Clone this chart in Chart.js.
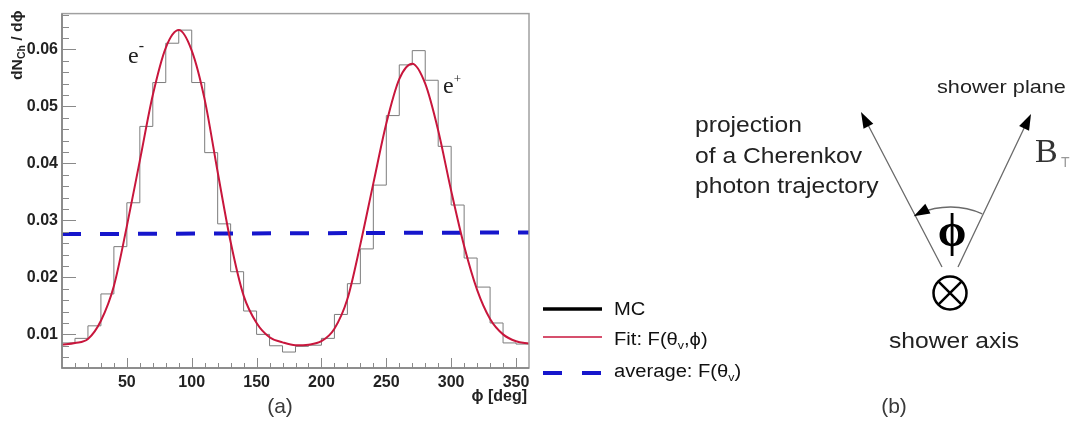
<!DOCTYPE html>
<html>
<head>
<meta charset="utf-8">
<script src="https://cdn.jsdelivr.net/npm/chart.js@4"></script>
<style>
  body { margin: 0; background: #fff; }
</style>
</head>
<body>
<canvas id="phi-chart" width="1082" height="423"></canvas>
<script>
// MC histogram: 10 degree bins, left edges + closing edge at 360
const binEdges = [0, 10, 20, 30, 40, 50, 60, 70, 80, 90, 100, 110, 120, 130, 140, 150, 160, 170,
    180, 190, 200, 210, 220, 230, 240, 250, 260, 270, 280, 290, 300, 310, 320, 330, 340, 350, 360];
const mcValues = [
    0.0085, 0.0093, 0.0115, 0.0171, 0.0254, 0.0331, 0.0465, 0.0542, 0.0611, 0.0634, 0.0542, 0.0419,
    0.0294, 0.0210, 0.0141, 0.0100, 0.0080, 0.0069, 0.0079, 0.0081, 0.0093, 0.0135, 0.0189, 0.0250,
    0.0362, 0.0484, 0.0573, 0.0598, 0.0546, 0.0430, 0.0327, 0.0234, 0.0183, 0.0120, 0.0085, 0.0083
];

// fit F(theta_v, phi), read every 10 deg
const fitPhi = binEdges;
const fitValues = [
    0.0082, 0.0085, 0.0092, 0.0124, 0.0185, 0.0290, 0.0405, 0.0520, 0.0603, 0.0634, 0.0598, 0.0512,
    0.0385, 0.0262, 0.0168, 0.0120, 0.0095, 0.0086, 0.0081, 0.0082, 0.0088, 0.0110, 0.0162, 0.0258,
    0.0365, 0.0470, 0.0548, 0.0575, 0.0540, 0.0458, 0.0352, 0.0255, 0.0178, 0.0127, 0.0100, 0.0088, 0.0084
];

// average F(theta_v)
const avgPhi = [0, 360];
const avgValues = [0.0276, 0.0279];

const xTickValues = [50, 100, 150, 200, 250, 300, 350];
const yTickValues = [0.01, 0.02, 0.03, 0.04, 0.05, 0.06];

const SANS = '"Liberation Sans", Arial, sans-serif';
const SERIF = '"Liberation Serif", "Times New Roman", serif';
const RED = '#c8163c';
const BLUE = '#1616cc';

// draws a row of text pieces (for sub/superscripts), sx = horizontal stretch
function textRun(ctx, x, y, parts, sx) {
    ctx.save();
    ctx.translate(x, y);
    ctx.scale(sx || 1, 1);
    ctx.textAlign = 'left';
    ctx.textBaseline = 'alphabetic';
    let cx = 0;
    parts.forEach(p => {
        ctx.font = p[1];
        ctx.fillStyle = p[3] || '#111';
        ctx.fillText(p[0], cx, p[2] || 0);
        cx += ctx.measureText(p[0]).width;
    });
    ctx.restore();
}

function arrowHead(ctx, tx, ty, angle, len, half) {
    ctx.save();
    ctx.translate(tx, ty);
    ctx.rotate(angle);
    ctx.beginPath();
    ctx.moveTo(0, 0);
    ctx.lineTo(-len, -half);
    ctx.lineTo(-len, half);
    ctx.closePath();
    ctx.fillStyle = '#000';
    ctx.fill();
    ctx.restore();
}

const decor = {
    id: 'decor',
    afterDraw(chart) {
        const ctx = chart.ctx;
        const area = chart.chartArea;
        const xs = chart.scales.x;
        const ys = chart.scales.y;

        ctx.save();
        // frame
        ctx.strokeStyle = '#a0a0a0';
        ctx.lineWidth = 1.5;
        ctx.strokeRect(area.left, area.top, area.right - area.left, area.bottom - area.top);
        ctx.strokeStyle = '#808080';
        ctx.beginPath();
        ctx.moveTo(area.left, area.top);
        ctx.lineTo(area.left, area.bottom);
        ctx.lineTo(area.right, area.bottom);
        ctx.stroke();

        // inside ticks
        ctx.lineWidth = 1;
        ctx.strokeStyle = '#8a8a8a';
        ctx.beginPath();
        for (let i = 3; i <= 33; i++) {
            const py = Math.round(ys.getPixelForValue(i * 0.002)) + 0.5;
            if (py < area.top || py > area.bottom) continue;
            const len = i % 5 === 0 ? 14 : 7;
            ctx.moveTo(area.left, py);
            ctx.lineTo(area.left + len, py);
        }
        for (let d = 10; d < 360; d += 10) {
            const px = Math.round(xs.getPixelForValue(d)) + 0.5;
            const len = d % 50 === 0 ? 10 : 5;
            ctx.moveTo(px, area.bottom);
            ctx.lineTo(px, area.bottom - len);
        }
        ctx.stroke();

        // axis titles
        ctx.save();
        ctx.translate(22, 80);
        ctx.rotate(-Math.PI / 2);
        textRun(ctx, 0, 0, [
            ['dN', 'bold 15px ' + SANS, 0, '#222'],
            ['Ch', 'bold 10px ' + SANS, 3, '#222'],
            [' / d\u03D5', 'bold 15px ' + SANS, 0, '#222']
        ], 1.05);
        ctx.restore();
        ctx.font = 'bold 16px ' + SANS;
        ctx.fillStyle = '#222';
        ctx.textAlign = 'right';
        ctx.textBaseline = 'alphabetic';
        ctx.fillText('\u03D5 [deg]', 527, 401);

        // peak labels
        textRun(ctx, 128, 63, [['e', '24px ' + SERIF, 0, '#222'], ['-', '16px ' + SERIF, -12, '#222']]);
        textRun(ctx, 443, 93, [['e', '24px ' + SERIF, 0, '#222'], ['+', '13px ' + SERIF, -10, '#222']]);

        // panel labels
        ctx.font = '21px ' + SANS;
        ctx.fillStyle = '#3a3a3a';
        ctx.textAlign = 'center';
        ctx.fillText('(a)', 280, 413);
        ctx.fillText('(b)', 894, 413);

        // legend
        ctx.lineCap = 'butt';
        ctx.strokeStyle = '#000';
        ctx.lineWidth = 3.5;
        ctx.beginPath(); ctx.moveTo(543, 309); ctx.lineTo(602, 309); ctx.stroke();
        ctx.strokeStyle = RED;
        ctx.lineWidth = 1.5;
        ctx.beginPath(); ctx.moveTo(543, 337); ctx.lineTo(602, 337); ctx.stroke();
        ctx.strokeStyle = BLUE;
        ctx.lineWidth = 4;
        ctx.beginPath();
        ctx.moveTo(543, 373); ctx.lineTo(562, 373);
        ctx.moveTo(582, 373); ctx.lineTo(601, 373);
        ctx.stroke();
        const lf = '18px ' + SANS, ls = '11px ' + SANS;
        textRun(ctx, 614, 315, [['MC', lf]], 1.12);
        textRun(ctx, 614, 345, [['Fit: F(\u03B8', lf], ['v', ls, 4], [',\u03D5)', lf]], 1.12);
        textRun(ctx, 614, 376.5, [['average: F(\u03B8', lf], ['v', ls, 4], [')', lf]], 1.12);

        // diagram (b)
        ctx.strokeStyle = '#6a6a6a';
        ctx.lineWidth = 1.3;
        ctx.beginPath();
        ctx.moveTo(942, 267); ctx.lineTo(866, 121);
        ctx.moveTo(958, 267); ctx.lineTo(1027, 122);
        ctx.stroke();
        arrowHead(ctx, 861, 112, Math.atan2(112 - 267, 861 - 942), 16, 5.5);
        arrowHead(ctx, 1031, 114, Math.atan2(114 - 267, 1031 - 958), 16, 5.5);

        const cx = 950.4, cy = 285, r = 78;
        ctx.beginPath();
        ctx.arc(cx, cy, r, -1.15, -1.98, true);
        ctx.stroke();
        const a = -2.06;
        arrowHead(ctx, cx + r * Math.cos(a), cy + r * Math.sin(a), a - Math.PI / 2, 16, 5.5);

        // shower axis symbol
        ctx.strokeStyle = '#000';
        ctx.lineWidth = 2.5;
        ctx.beginPath();
        ctx.arc(950, 293, 16.5, 0, Math.PI * 2);
        ctx.stroke();
        const k = 16.5 * Math.SQRT1_2;
        ctx.beginPath();
        ctx.moveTo(950 - k, 293 - k); ctx.lineTo(950 + k, 293 + k);
        ctx.moveTo(950 + k, 293 - k); ctx.lineTo(950 - k, 293 + k);
        ctx.stroke();

        ctx.font = 'bold 46px ' + SERIF;
        ctx.fillStyle = '#000';
        ctx.textAlign = 'center';
        ctx.textBaseline = 'middle';
        ctx.fillText('\u03D5', 952, 234);

        const df = '22px ' + SANS;
        textRun(ctx, 695, 132, [['projection', df, 0, '#222']], 1.12);
        textRun(ctx, 695, 163, [['of a Cherenkov', df, 0, '#222']], 1.12);
        textRun(ctx, 695, 193, [['photon trajectory', df, 0, '#222']], 1.12);
        textRun(ctx, 937, 93, [['shower plane', '19px ' + SANS, 0, '#222']], 1.14);
        textRun(ctx, 889, 348, [['shower axis', df, 0, '#222']], 1.12);
        textRun(ctx, 1035, 162, [['B', '34px ' + SERIF, 0, '#333']]);
        textRun(ctx, 1061, 167, [['T', '14px ' + SANS, 0, '#999']]);
        ctx.restore();
    }
};

const ctx = document.getElementById('phi-chart');

const chart = new Chart(ctx, {
    type: 'line',
    data: {
        datasets: [{
            label: 'Fit: F(\u03B8v,\u03D5)',
            data: fitPhi.map((x, i) => ({ x: x, y: fitValues[i] })),
            borderColor: RED,
            borderWidth: 2,
            pointRadius: 0,
            cubicInterpolationMode: 'monotone'
        }, {
            label: 'average: F(\u03B8v)',
            data: avgPhi.map((x, i) => ({ x: x, y: avgValues[i] })),
            borderColor: BLUE,
            borderWidth: 4,
            borderDash: [19, 19],
            pointRadius: 0
        }, {
            label: 'MC',
            // each point holds its bin value until the next edge
            data: binEdges.map((x, i) => ({ x: x, y: mcValues[Math.min(i, mcValues.length - 1)] })),
            stepped: true,
            borderColor: '#7c7c7c',
            borderWidth: 1,
            pointRadius: 0
        }]
    },
    options: {
        responsive: false,
        animation: false,
        devicePixelRatio: 1,
        layout: { padding: { top: 12, right: 553, left: 0, bottom: 0 } },
        plugins: {
            legend: { display: false },
            tooltip: { enabled: false }
        },
        scales: {
            x: {
                type: 'linear',
                min: 0,
                max: 360,
                afterFit: s => { s.height = 55; },
                afterBuildTicks: s => { s.ticks = xTickValues.map(v => ({ value: v })); },
                grid: { display: false, drawTicks: false },
                border: { display: false },
                ticks: {
                    color: '#222',
                    padding: 5,
                    maxRotation: 0,
                    autoSkip: false,
                    font: { family: SANS, size: 16, weight: 'bold' }
                }
            },
            y: {
                type: 'linear',
                min: 0.0041,
                max: 0.0663,
                afterFit: s => { s.width = 62; },
                afterBuildTicks: s => { s.ticks = yTickValues.map(v => ({ value: v })); },
                grid: { display: false, drawTicks: false },
                border: { display: false },
                ticks: {
                    color: '#222',
                    padding: 4,
                    callback: v => v.toFixed(2),
                    font: { family: SANS, size: 16, weight: 'bold' }
                }
            }
        }
    },
    plugins: [decor]
});
</script>
</body>
</html>
